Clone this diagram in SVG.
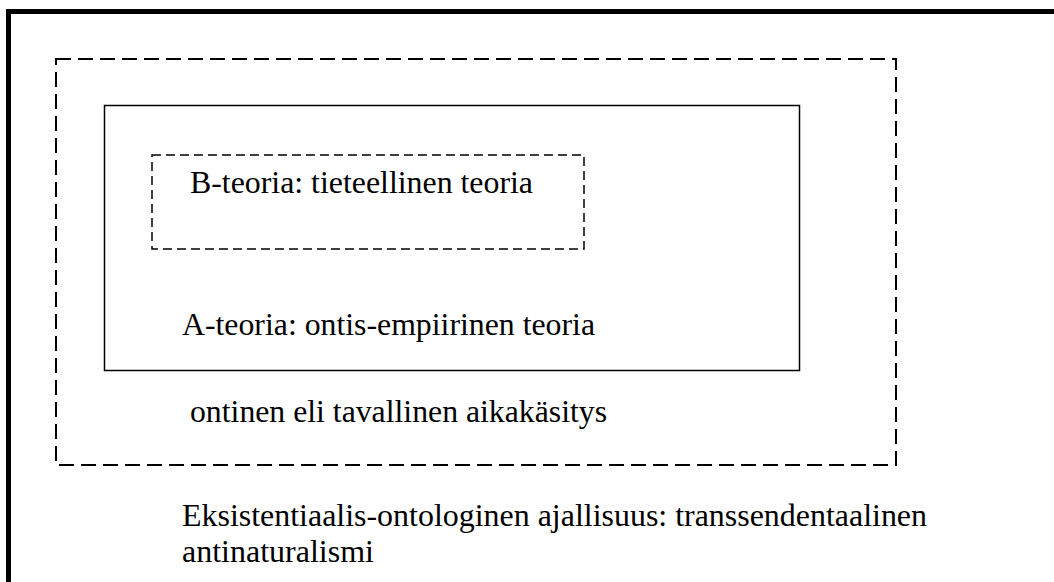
<svg xmlns="http://www.w3.org/2000/svg" width="1054" height="582" viewBox="0 0 1054 582">
<style>
.t{font-family:'Liberation Serif','Times New Roman',Times,'DejaVu Serif',serif;font-size:32px;fill:#000}
.box{fill:none;stroke:#000}
</style>
<rect width="1054" height="582" fill="#fff"/>
<g id="frame"><rect class="box" x="8.5" y="11.5" width="1100" height="620" stroke-width="5"/>
<text class="t" x="182" y="526" textLength="745" lengthAdjust="spacingAndGlyphs">Eksistentiaalis-ontologinen ajallisuus: transsendentaalinen</text>
<text class="t" x="182" y="562">antinaturalismi</text></g>
<g id="ontinen"><rect class="box" x="56" y="59" width="840" height="406" stroke-width="2" stroke-dasharray="15 7"/>
<text class="t" x="190" y="422" textLength="417" lengthAdjust="spacingAndGlyphs">ontinen eli tavallinen aikakäsitys</text></g>
<g id="a-teoria"><rect class="box" x="104.5" y="105.5" width="695" height="265" stroke-width="1.5"/>
<text class="t" x="182" y="335" textLength="413" lengthAdjust="spacingAndGlyphs">A-teoria: ontis-empiirinen teoria</text></g>
<g id="b-teoria"><rect class="box" x="152" y="155" width="432" height="94" stroke-width="1.5" stroke-dasharray="9 5"/>
<text class="t" x="190" y="193" textLength="343" lengthAdjust="spacingAndGlyphs">B-teoria: tieteellinen teoria</text></g>
<g id="connectors"/>
</svg>
